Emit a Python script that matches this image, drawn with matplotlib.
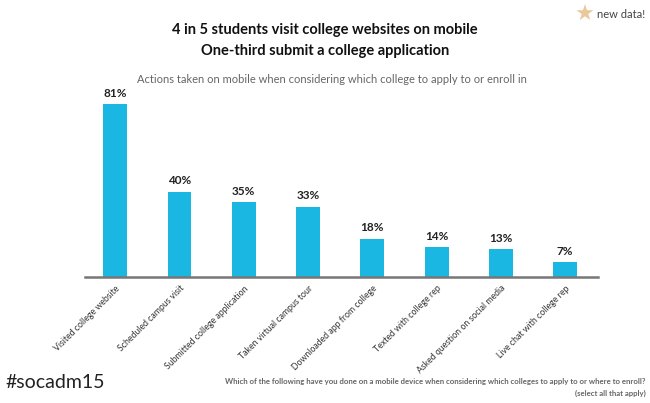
import matplotlib
matplotlib.use("Agg")
import matplotlib.pyplot as plt

categories = ["Visited college website", "Scheduled campus visit", "Submitted college application",
              "Taken virtual campus tour", "Downloaded app from college", "Texted with college rep",
              "Asked question on social media", "Live chat with college rep"]
values = [81, 40, 35, 33, 18, 14, 13, 7]

plt.rcParams['font.family'] = ['Lato', 'DejaVu Sans']

fig = plt.figure(figsize=(6.5, 4.03), dpi=100)
ax = fig.add_axes([0.1308, 0.3127, 0.7892, 0.476])
x = list(range(len(categories)))
ax.bar(x, values, width=0.37, color='#1ab7e2')
for xi, v in zip(x, values):
    ax.annotate(f"{v}%", (xi, v), xytext=(0, 4), textcoords='offset points',
                ha='center', va='bottom', fontsize=8.5, fontweight='bold', color='#222222')
ax.set_xlim(-0.47, 7.51)
ax.set_ylim(0, 90)
for s in ['top', 'right', 'left']:
    ax.spines[s].set_visible(False)
ax.spines['bottom'].set_color('#777777')
ax.spines['bottom'].set_linewidth(1.8)
ax.set_yticks([])
ax.set_xticks(x)
ax.set_xticklabels(categories, rotation=45, ha='right', rotation_mode='anchor',
                   fontsize=6.3, color='#333333')
ax.tick_params(axis='x', length=0, pad=5)

fig.text(0.5, 0.925, "4 in 5 students visit college websites on mobile", ha='center', va='center',
         fontsize=10.5, fontweight='bold', color='#111111')
fig.text(0.5, 0.873, "One-third submit a college application", ha='center', va='center',
         fontsize=10.5, fontweight='bold', color='#111111')
fig.text(0.511, 0.803, "Actions taken on mobile when considering which college to apply to or enroll in",
         ha='center', va='center', fontsize=8, color='#666666')
fig.text(0.9, 0.963, "\u2605", ha='center', va='center', fontsize=16, color='#e9c89c',
         family=['DejaVu Sans'])
fig.text(0.918, 0.963, "new data!", ha='left', va='center', fontsize=8, color='#444444')
fig.text(0.008, 0.05, "#socadm15", ha='left', va='center', fontsize=14, color='#222222')
fig.text(0.993, 0.053, "Which of the following have you done on a mobile device when considering which colleges to apply to or where to enroll?",
         ha='right', va='center', fontsize=5.6, fontweight='bold', color='#666666')
fig.text(0.993, 0.025, "(select all that apply)", ha='right', va='center', fontsize=5.6,
         fontweight='bold', color='#666666')

fig.savefig("out.png", dpi=100)
